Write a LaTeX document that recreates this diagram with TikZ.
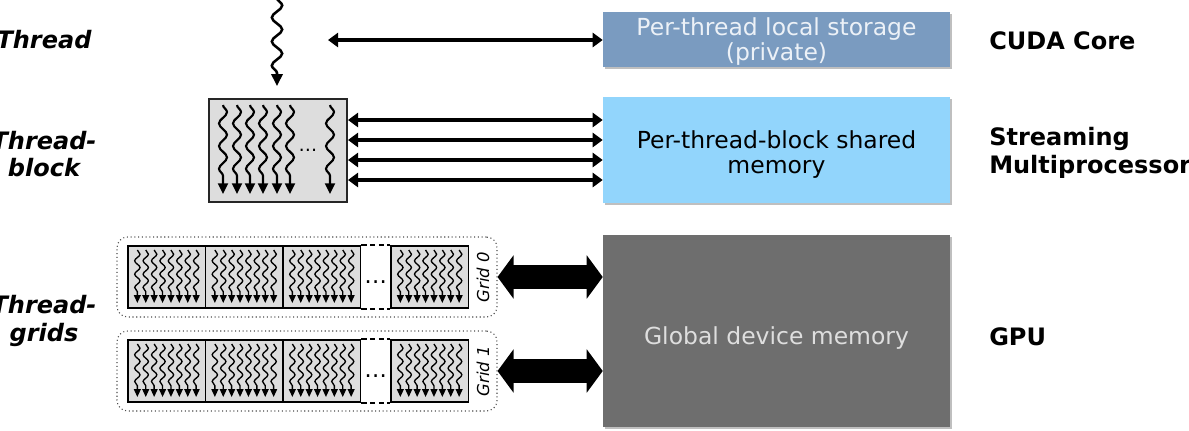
\documentclass[tikz,border=0pt]{standalone}
\usepackage{fontspec}
\setmainfont{DejaVu Sans}
\usetikzlibrary{arrows.meta,decorations.pathmorphing,shadows,calc}
\definecolor{locbox}{RGB}{122,155,192}
\definecolor{shbox}{RGB}{146,213,252}
\definecolor{glbox}{RGB}{110,110,110}
\definecolor{blkfill}{RGB}{221,221,221}
\definecolor{loctext}{RGB}{236,241,247}
\definecolor{gltext}{RGB}{222,222,222}
\begin{document}
\begin{tikzpicture}[x=0.75pt,y=-0.75pt,
  leftlbl/.style={font=\fontsize{18pt}{20.5pt}\selectfont\bfseries\itshape, align=center, inner sep=0pt},
  rightlbl/.style={font=\fontsize{18pt}{21pt}\selectfont\bfseries, align=left, anchor=west, inner sep=0pt},
  membox/.style={draw=none, minimum width=260.25pt, inner sep=0pt,
    drop shadow={shadow xshift=1.8pt, shadow yshift=-1.8pt, opacity=0.25, fill=black}},
  boxtext/.style={inner sep=0pt, align=center, font=\fontsize{17.6pt}{18.75pt}\selectfont},
  topthread/.style={line width=1.9pt, decorate,
    decoration={snake, amplitude=3.9pt, segment length=18pt, post length=9pt},
    -{Triangle[length=9pt,width=8.5pt]}},
  bigthread/.style={line width=1.6pt, decorate,
    decoration={snake, amplitude=3pt, segment length=17pt, post length=7pt},
    -{Triangle[length=8pt,width=7.5pt]}},
  smallthread/.style={line width=1pt, decorate,
    decoration={snake, amplitude=2pt, segment length=10pt, post length=5pt},
    -{Triangle[length=6pt,width=5.2pt]}},
  thinarr/.style={line width=2.5pt, {Triangle[length=7.5pt,width=10.5pt]}-{Triangle[length=7.5pt,width=10.5pt]}},
  bigarr/.style={line width=18pt, {Triangle[length=12pt,width=32pt]}-{Triangle[length=12pt,width=32pt]}},
  tblock/.style={draw=black!85, line width=1.5pt, fill=blkfill, minimum width=103.5pt, minimum height=77.25pt, inner sep=0pt},
  gblk/.style={draw=black, line width=1.4pt, fill=blkfill, minimum width=58.125pt, minimum height=46.5pt, inner sep=0pt},
  gridbox/.style={draw=black!70, dotted, line width=0.8pt, rounded corners=8pt, minimum width=285pt, minimum height=60pt, inner sep=0pt},
  gridlbl/.style={rotate=90, font=\fontsize{12.3pt}{14pt}\selectfont\itshape, inner sep=0pt},
  dots/.style={inner sep=0pt}
]
\useasboundingbox (0,0) rectangle (1189,430);

% left labels
\node[leftlbl] (lT)  at (44,40)  {Thread};
\node[leftlbl] (lTB) at (44,154) {Thread-\\block};
\node[leftlbl] (lTG) at (44,321) {Thread-\\grids};

% right labels
\node[rightlbl] (rC) at (989,41)  {CUDA Core};
\node[rightlbl] (rS) at (989,153) {Streaming\\Multiprocessor};
\node[rightlbl] (rG) at (989,337) {GPU};

% memory boxes
\node[membox, fill=locbox, minimum height=41.25pt] (loc) at (776.5,39.5) {};
\node[boxtext, text=loctext] (loct) at (776.5,42) {Per-thread local storage\\(private)};
\node[membox, fill=shbox, minimum height=79.5pt] (sh) at (776.5,150) {};
\node[boxtext, text=black] (sht) at (776.5,154.5) {Per-thread-block shared\\memory};
\node[membox, fill=glbox, minimum height=144pt] (gdm) at (776.5,331) {};
\node[boxtext, text=gltext] (gdmt) at (776.5,338) {Global device memory};

% single thread
\coordinate (t0) at (277,-2);
\coordinate (t1) at (277,86);
\draw[topthread] (t0) -- (t1);
\coordinate (a0) at (328,40);
\draw[thinarr] (a0) -- (loc.west |- a0);

% thread block
\node[tblock] (tb) at (278,150.5) {};
\foreach \x in {223,237,250,263,277,290,330}
  \draw[bigthread] (\x,105) -- (\x,194);
\node[dots, font=\fontsize{14pt}{16pt}\selectfont] (tbd) at (308,150) {…};
\foreach \yy [count=\k] in {120,140,160,180} {
  \coordinate (y\k) at (0,\yy);
  \draw[thinarr] (tb.east |- y\k) -- (sh.west |- y\k);
}

% grids
\foreach \g/\gy in {0/277,1/371} {
  \node[gridbox] (g\g) at (307,\gy) {};
  \foreach \bx [count=\k] in {166.75,244.25,321.75,429.75} {
    \node[gblk] (b\g\k) at (\bx,\gy) {};
    \foreach \i in {0,...,7}
      \draw[smallthread] ({\bx+(\i-3.5)*8.4},\gy-27) -- ({\bx+(\i-3.5)*8.4},\gy+26);
  }
  \draw[line width=1.4pt, dash pattern=on 4pt off 2.5pt] (b\g3.north east) -- (b\g4.north west);
  \draw[line width=1.4pt, dash pattern=on 4pt off 2.5pt] (b\g3.south east) -- (b\g4.south west);
  \node[dots, font=\fontsize{17pt}{19pt}\selectfont] (gd\g) at (375.75,\gy+5) {…};
  \node[gridlbl] (gl\g) at (483,\gy) {Grid \g};
  \draw[bigarr] (g\g.east) -- (gdm.west |- g\g.east);
}
\end{tikzpicture}
\end{document}
